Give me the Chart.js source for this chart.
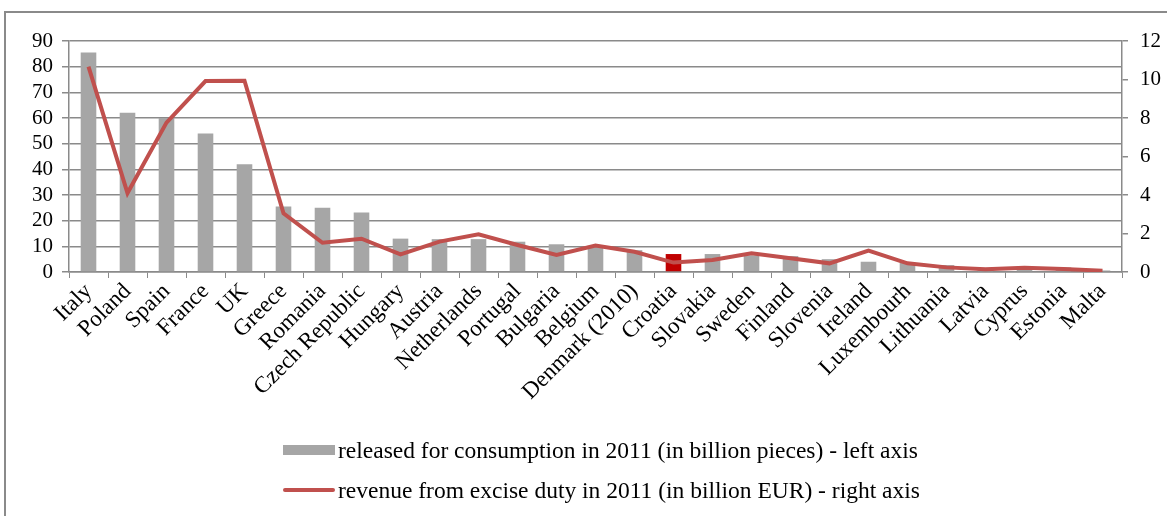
<!DOCTYPE html>
<html>
<head>
<meta charset="utf-8">
<script src="https://cdn.jsdelivr.net/npm/chart.js@4"></script>
<style>
  body { margin: 0; background: #fff; }
  #wrap { position: relative; width: 1167px; height: 516px; overflow: hidden;
          font-family: 'Liberation Serif', 'DejaVu Serif', serif; }
  #frame { position: absolute; left: 4px; top: 11px; width: 1300px; height: 600px;
           border-left: 2px solid #8a8a8a; border-top: 2px solid #8a8a8a; }
  #myChart { position: absolute; left: 0; top: 0; }
  .leg-row { position: absolute; left: 283px; height: 30px; display: flex; align-items: center;
             font-size: 23.5px; color: #000; white-space: nowrap; }
  .leg-key { width: 52px; margin-right: 3px; }
</style>
</head>
<body>
<div id="wrap">
  <div id="frame"></div>
  <canvas id="myChart" width="1167" height="516"></canvas>
  <div id="legend"></div>
</div>
<script>
// Data //
const countries = ["Italy", "Poland", "Spain", "France", "UK", "Greece", "Romania", "Czech Republic",
    "Hungary", "Austria", "Netherlands", "Portugal", "Bulgaria", "Belgium", "Denmark (2010)", "Croatia",
    "Slovakia", "Sweden", "Finland", "Slovenia", "Ireland", "Luxembourh", "Lithuania", "Latvia",
    "Cyprus", "Estonia", "Malta"];
// billion pieces, left axis
const released = [85.5, 62, 60, 54, 42, 25.5, 25, 23.2, 13, 12.8, 12.8, 11.8, 10.8, 10.2, 8.5, 7,
    7, 6.5, 6.2, 5, 4, 3.6, 2.7, 1.6, 1.4, 1.8, 0.6];
// billion EUR, right axis
const revenue = [10.67, 4.1, 7.76, 9.92, 9.94, 3.05, 1.52, 1.73, 0.92, 1.58, 1.96, 1.4, 0.88, 1.37,
    1.05, 0.49, 0.62, 0.97, 0.71, 0.45, 1.11, 0.45, 0.24, 0.14, 0.22, 0.16, 0.07];
const leftTicks = [0, 10, 20, 30, 40, 50, 60, 70, 80, 90];
const rightTicks = [0, 2, 4, 6, 8, 10, 12];
const highlight = "Croatia";

const barLabel = "released for consumption in 2011 (in billion pieces) - left axis";
const lineLabel = "revenue from excise duty in 2011 (in billion EUR) - right axis";

const gridGray = "#8a8a8a";
const barGray = "#a6a6a6";
const lineRed = "#c0504d";
const fontFamily = "'Liberation Serif', 'DejaVu Serif', serif";

const barColors = countries.map(c => c === highlight ? "#c00000" : barGray);

const canvas2D = document.getElementById("myChart").getContext("2d");

const myChart = new Chart(canvas2D, {
    type: "bar",
    data: {
        labels: countries,
        datasets: [
            {
                type: "line",
                label: lineLabel,
                data: revenue,
                yAxisID: "y2",
                borderColor: lineRed,
                backgroundColor: lineRed,
                borderWidth: 4,
                pointRadius: 0,
                tension: 0,
                order: 0
            },
            {
                type: "bar",
                label: barLabel,
                data: released,
                yAxisID: "y",
                backgroundColor: barColors,
                barPercentage: 0.4,
                categoryPercentage: 1,
                order: 1
            }
        ]
    },
    options: {
        responsive: false,
        animation: false,
        layout: { padding: { top: 41, bottom: 0, left: 0, right: 0 } },
        plugins: {
            tooltip: { enabled: false },
            legend: { display: false }
        },
        scales: {
            x: {
                afterFit: function (scale) { scale.height = 244; },
                grid: {
                    drawOnChartArea: false,
                    drawTicks: true,
                    tickLength: 6,
                    color: gridGray,
                    offset: true
                },
                border: { color: gridGray, width: 1.5 },
                ticks: {
                    color: "#000",
                    font: { family: fontFamily, size: 23 },
                    minRotation: 45,
                    maxRotation: 45,
                    autoSkip: false,
                    padding: 0
                }
            },
            y: {
                position: "left",
                min: 0,
                max: 90,
                afterFit: function (scale) { scale.width = 69; },
                afterBuildTicks: function (scale) { scale.ticks = leftTicks.map(v => ({ value: v })); },
                grid: { color: gridGray, lineWidth: 1.5, tickLength: 7 },
                border: { color: gridGray, width: 1.5 },
                ticks: {
                    color: "#000",
                    font: { family: fontFamily, size: 21 },
                    padding: 9,
                    autoSkip: false
                }
            },
            y2: {
                position: "right",
                min: 0,
                max: 12,
                afterFit: function (scale) { scale.width = 45; },
                afterBuildTicks: function (scale) { scale.ticks = rightTicks.map(v => ({ value: v })); },
                grid: { drawOnChartArea: false, color: gridGray, tickLength: 6, lineWidth: 1.5 },
                border: { color: gridGray, width: 1.5 },
                ticks: {
                    color: "#000",
                    font: { family: fontFamily, size: 21 },
                    padding: 12,
                    autoSkip: false
                }
            }
        }
    }
});

// Legend (bar first, then line, like the original)
const legendDiv = document.getElementById("legend");
const legendItems = [
    { text: barLabel, top: 435, key: "height:10px;background:" + barGray },
    { text: lineLabel, top: 475, key: "height:4px;border-radius:2px;background:" + lineRed }
];
legendItems.forEach(item => {
    const row = document.createElement("div");
    row.className = "leg-row";
    row.style.top = item.top + "px";
    row.innerHTML = '<span class="leg-key" style="' + item.key + '"></span><span></span>';
    row.lastChild.textContent = item.text;
    legendDiv.appendChild(row);
});
</script>
</body>
</html>
